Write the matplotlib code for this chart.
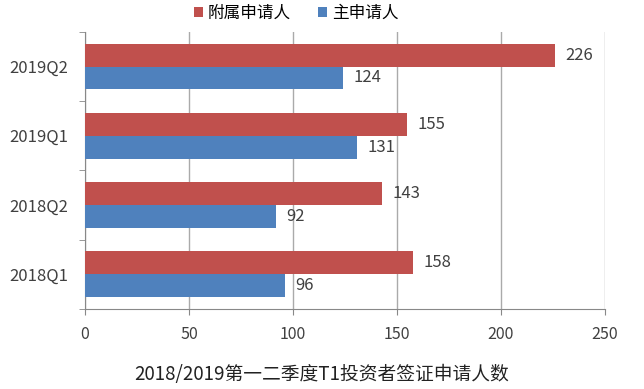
import matplotlib
matplotlib.use("Agg")
import matplotlib.pyplot as plt
import numpy as np

plt.rcParams['font.family'] = ['Noto Sans CJK SC', 'DejaVu Sans']

categories = ["2018Q1", "2018Q2", "2019Q1", "2019Q2"]
dependents = [158, 143, 155, 226]   # 附属申请人
principals = [96, 92, 131, 124]     # 主申请人
xticks = [0, 50, 100, 150, 200, 250]
title = "2018/2019第一二季度T1投资者签证申请人数"

red = "#C0504D"
blue = "#4F81BD"
txt = "#404040"

fig = plt.figure(figsize=(6.44, 3.89), dpi=100)
ax = fig.add_axes([0.132, 0.206, 0.807, 0.712])

y = np.arange(len(categories))
h = 0.33
b1 = ax.barh(y + h/2, dependents, height=h, color=red, label="附属申请人", zorder=3)
b2 = ax.barh(y - h/2, principals, height=h, color=blue, label="主申请人", zorder=3)

for bars, vals in ((b1, dependents), (b2, principals)):
    for r, v in zip(bars, vals):
        ax.text(v + 5, r.get_y() + r.get_height()/2, str(v), va='center', ha='left',
                fontsize=12, color=txt)

ax.set_xlim(0, 250)
ax.set_ylim(-0.5, len(categories) - 0.5)
ax.set_xticks(xticks)
ax.set_xticklabels([str(t) for t in xticks], fontsize=11.5, color=txt)
ax.set_yticks(y)
ax.set_yticklabels(categories, fontsize=12, color=txt)
ax.set_yticks(np.arange(-0.5, len(categories)), minor=True)
ax.tick_params(axis='y', which='major', length=0, pad=12)
ax.tick_params(axis='y', which='minor', length=4, color='#888888')
ax.tick_params(axis='x', which='major', length=4, color='#888888', pad=8)
ax.grid(axis='x', color='#AAAAAA', linewidth=1, zorder=0)
for s in ('top', 'right'):
    ax.spines[s].set_visible(False)
for s in ('left', 'bottom'):
    ax.spines[s].set_color('#888888')

fig.legend(handles=[b1, b2], loc='upper center', bbox_to_anchor=(0.46, 1.025), ncol=2,
           frameon=False, fontsize=12, handlelength=0.55, handleheight=0.55,
           handletextpad=0.3, columnspacing=1.6)

fig.text(0.5, 0.036, title, ha='center', va='center', fontsize=13.5, color='#222222')

fig.savefig("out.png", dpi=100)
